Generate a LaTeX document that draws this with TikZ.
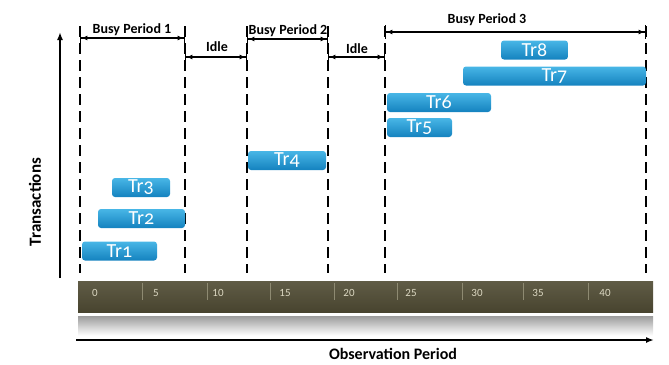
\documentclass[tikz,border=0pt]{standalone}
\usepackage{fontspec}
\setmainfont{Carlito}
\newfontfamily\trfont{Carlito}[Numbers=OldStyle]
\usetikzlibrary{arrows.meta}
\definecolor{bartop}{HTML}{48B6E6}
\definecolor{barbot}{HTML}{1482BF}
\definecolor{olivetop}{HTML}{605C46}
\definecolor{olivebot}{HTML}{48442F}
\definecolor{sepcol}{HTML}{8E8A72}
\definecolor{ticktext}{HTML}{DCD8C2}
\tikzset{
  dline/.style={line width=2pt, dash pattern=on 11pt off 6pt},
  span/.style={line width=1.4pt, {Bar[width=14pt,line width=1.4pt]Latex[length=6pt,width=5pt]}-{Latex[length=6pt,width=5pt]Bar[width=14pt,line width=1.4pt]}},
  spanlabel/.style={font=\bfseries\fontsize{14}{14}\selectfont, inner sep=0pt},
  trbar/.style={rounded corners=3pt, top color=bartop, bottom color=barbot, draw=none,
    minimum height=19pt, inner sep=0pt, text=white, font=\trfont\fontsize{20}{20}\selectfont},
  ticklabel/.style={text=ticktext, font=\fontsize{11}{11}\selectfont, inner sep=0pt},
  sepline/.style={sepcol, line width=0.8pt},
  axis/.style={line width=2pt, -{Latex[length=8pt,width=6pt]}},
}
\begin{document}
\begin{tikzpicture}[x=1pt,y=-1pt]
\useasboundingbox (0,0) rectangle (669,364);

% dashed boundaries
\foreach \n/\x in {d1/80,d2/185,d3/247,d4/328,d5/385,d6/646}{
  \coordinate (\n t) at (\x,26);
  \coordinate (\n b) at (\x,273);
  \draw[dline] (\n t) -- (\n b);
}

% spans
\coordinate (bp1a) at (80,38);  \coordinate (bp1b) at (185,38);
\coordinate (id1a) at (185,57); \coordinate (id1b) at (247,57);
\coordinate (bp2a) at (247,39); \coordinate (bp2b) at (328,39);
\coordinate (id2a) at (328,57); \coordinate (id2b) at (385,57);
\coordinate (bp3a) at (385,32); \coordinate (bp3b) at (646,32);
\draw[span] (bp1a) -- (bp1b);
\draw[span] (id1a) -- (id1b);
\draw[span] (bp2a) -- (bp2b);
\draw[span] (id2a) -- (id2b);
\draw[span] (bp3a) -- (bp3b);
\node[spanlabel] (lbp1) at (132,30) {Busy Period 1};
\node[spanlabel] (lid1) at (217,47) {Idle};
\node[spanlabel] (lbp2) at (288,31) {Busy Period 2};
\node[spanlabel] (lid2) at (357,49) {Idle};
\node[spanlabel] (lbp3) at (487,20) {Busy Period 3};

% transactions
\node[trbar, minimum width=75pt] (tr1) at (119.5,251) {Tr1};
\node[trbar, minimum width=87pt] (tr2) at (141.5,218.5) {Tr2};
\node[trbar, minimum width=58pt] (tr3) at (141,187.5) {Tr3};
\node[trbar, minimum width=78pt] (tr4) at (287,160.5) {Tr4};
\node[trbar, minimum width=65pt] (tr5) at (419.5,127.5) {Tr5};
\node[trbar, minimum width=104pt] (tr6) at (439,102.5) {Tr6};
\node[trbar, minimum width=183pt] (tr7) at (554.5,76) {Tr7};
\node[trbar, minimum width=67pt] (tr8) at (534.5,50) {Tr8};

% vertical axis
\coordinate (ya) at (60,278);
\coordinate (yb) at (60,32);
\draw[axis] (ya) -- (yb);
\node[rotate=90, font=\bfseries\fontsize{17}{17}\selectfont, inner sep=0pt] (ylab) at (35,202) {Transactions};

% timeline
\node[draw=none, top color=olivetop, bottom color=olivebot, minimum width=575pt, minimum height=31pt, inner sep=0pt] (timeline) at (365.5,296.5) {};
\foreach \x in {142,207,270,334,397,462,523,588}{
  \draw[sepline] (\x,283) -- (\x,300);
}
\foreach \v/\x in {0/95,5/156,10/218,15/285,20/349,25/411,30/477,35/538,40/605}{
  \node[ticklabel] (t\v) at (\x,293) {\v};
}
% reflection band
\node[draw=none, top color=black!38, bottom color=white, minimum width=575pt, minimum height=19pt, inner sep=0pt] (refl) at (365.5,326) {};

% horizontal axis
\coordinate (xa) at (76,340);
\coordinate (xb) at (654,340);
\draw[axis] (xa) -- (xb);
\node[font=\bfseries\fontsize{16}{16}\selectfont, inner sep=0pt] (xlab) at (393,354) {Observation Period};
\end{tikzpicture}
\end{document}
